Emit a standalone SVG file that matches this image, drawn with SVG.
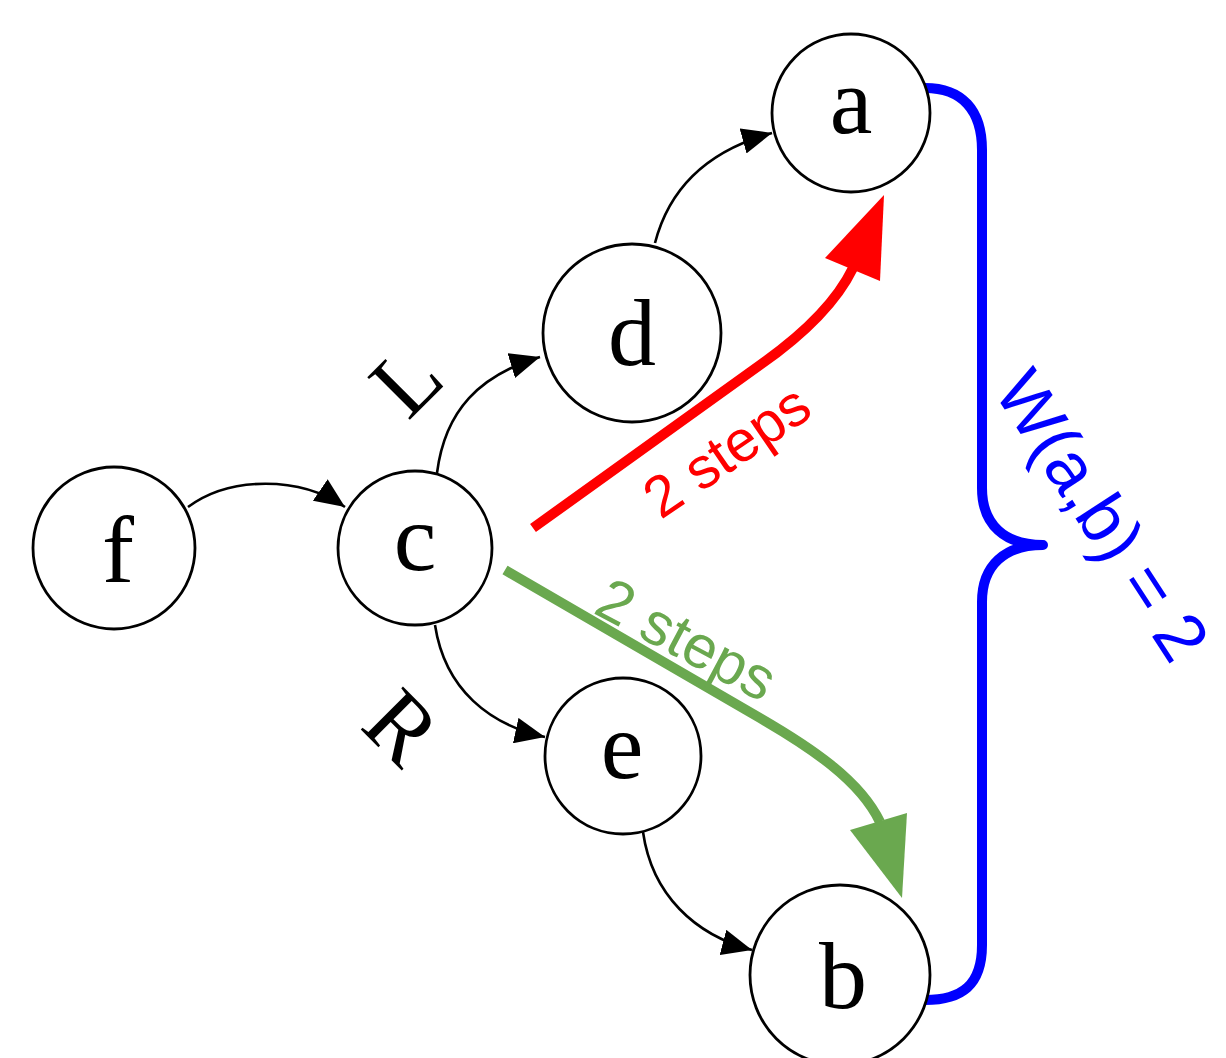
<svg xmlns="http://www.w3.org/2000/svg" width="1226" height="1058" viewBox="0 0 1226 1058">
<style>
.node circle{fill:#fff;stroke:#000;stroke-width:2.8}
.node text{font-family:"Liberation Serif","DejaVu Serif",serif;font-size:96px;text-anchor:middle;fill:#000}
.edge{fill:none;stroke:#000;stroke-width:2.6}
.lbl{font-family:"Liberation Serif","DejaVu Serif",serif;font-size:92px;text-anchor:middle;fill:#000}
.sans{font-family:"Liberation Sans",Arial,sans-serif;text-anchor:middle}
</style>
<defs>
<marker id="ah" viewBox="0 0 30 26" refX="30" refY="13" markerWidth="30" markerHeight="26" markerUnits="userSpaceOnUse" orient="auto">
<path d="M0,0 L30,13 L0,26 z" fill="#000"/>
</marker>
</defs>
<rect width="1226" height="1058" fill="#fff"/>
<g id="connectors">
<path class="edge" d="M188,507 C230,476 300,476 345,507" marker-end="url(#ah)"/>
<path class="edge" d="M437,473 C445,410 480,375 540,357" marker-end="url(#ah)"/>
<path class="edge" d="M655,243 C670,185 710,150 772,133" marker-end="url(#ah)"/>
<path class="edge" d="M435,625 C445,690 490,725 545,737" marker-end="url(#ah)"/>
<path class="edge" d="M643,832 C652,895 695,935 752,950" marker-end="url(#ah)"/>
<text class="lbl" transform="translate(406,380) rotate(-45)" x="0" y="31">L</text>
<text class="lbl" transform="translate(402,727) rotate(45)" x="0" y="31">R</text>
</g>
<g id="red-path">
<path d="M533,528 L760,365 C800,337 835,305 853,268" fill="none" stroke="#ff0000" stroke-width="10"/>
<polygon points="825,258 884,195 880,281" fill="#ff0000"/>
<text class="sans" transform="translate(726,450) rotate(-34.4)" x="0" y="21" font-size="58" fill="#ff0000">2 steps</text>
</g>
<g id="green-path">
<path d="M505,570 L760,718 C810,747 860,780 880,822" fill="none" stroke="#6aa84f" stroke-width="10"/>
<polygon points="850,830 907,813 902,898" fill="#6aa84f"/>
<text class="sans" transform="translate(687,639) rotate(28)" x="0" y="21" font-size="60" fill="#6aa84f">2 steps</text>
</g>
<g id="brace">
<path d="M925,88 C962,88 982,110 982,150 L982,488 C982,525 1005,545 1043,545 C1005,545 982,565 982,602 L982,945 C982,985 962,1000 925,1000" fill="none" stroke="#0000ff" stroke-width="10" stroke-linejoin="round" stroke-linecap="round"/>
<text class="sans" transform="translate(1103,515) rotate(57)" x="0" y="25" font-size="70" fill="#0000ff">W(a,b) = 2</text>
</g>
<g id="node-f" class="node"><circle cx="114" cy="548" r="81"/><text x="118" y="582">f</text></g>
<g id="node-c" class="node"><circle cx="415" cy="548" r="77"/><text x="415" y="570">c</text></g>
<g id="node-d" class="node"><circle cx="632" cy="333" r="89"/><text x="632" y="365">d</text></g>
<g id="node-a" class="node"><circle cx="851" cy="113" r="79"/><text x="851" y="133">a</text></g>
<g id="node-e" class="node"><circle cx="623" cy="756" r="78"/><text x="622" y="778">e</text></g>
<g id="node-b" class="node"><circle cx="840" cy="975" r="90"/><text x="843" y="1008">b</text></g>
</svg>
